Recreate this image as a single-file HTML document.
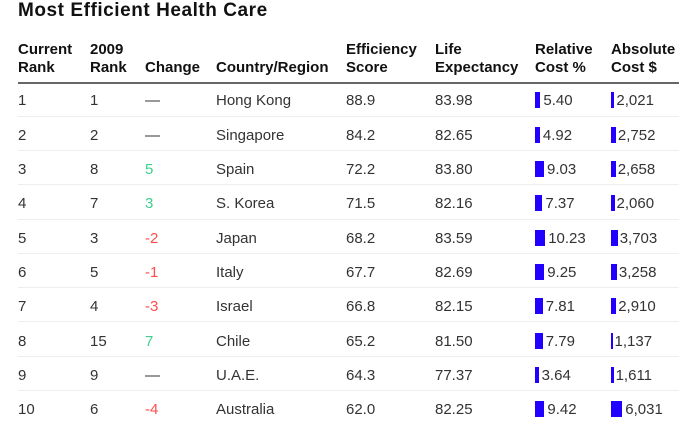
<!DOCTYPE html>
<html><head><meta charset="utf-8">
<style>
html,body{margin:0;padding:0;background:#fff;}
body{width:697px;height:419px;position:relative;overflow:hidden;font-family:"Liberation Sans",Arial,sans-serif;color:#333;}
.t{position:absolute;left:18px;top:0;font-size:19px;line-height:22px;font-weight:bold;color:#111;letter-spacing:0.55px;white-space:nowrap;}
.h{position:absolute;top:41px;font-size:15px;line-height:18px;font-weight:bold;color:#111;white-space:nowrap;}
.rule{position:absolute;left:18px;width:661px;top:82px;height:2px;background:#666;}
.row{position:absolute;left:0;width:697px;height:34.3px;}
.sep{position:absolute;left:18px;width:661px;bottom:0;height:1px;background:#eeeeee;}
.c{position:absolute;top:2px;line-height:34.3px;font-size:15px;white-space:nowrap;color:#333;}
.g{color:#3dcf8e;}
.r{color:#ff4d4d;}
.bar{position:absolute;top:10px;height:16px;background:#2200ff;}
</style></head><body>
<div class="t">Most Efficient Health Care</div>
<div class="h" style="left:18px">Current<br>Rank</div>
<div class="h" style="left:90px">2009<br>Rank</div>
<div class="h" style="left:145px"><br>Change</div>
<div class="h" style="left:216px"><br>Country/Region</div>
<div class="h" style="left:346px">Efficiency<br>Score</div>
<div class="h" style="left:435px">Life<br>Expectancy</div>
<div class="h" style="left:535px">Relative<br>Cost %</div>
<div class="h" style="left:611px">Absolute<br>Cost $</div>
<div class="rule"></div>

<div class="row" style="top:82.4px"><div class="c" style="left:18px">1</div><div class="c" style="left:90px">1</div><div class="c" style="left:145px">—</div><div class="c" style="left:216px">Hong Kong</div><div class="c" style="left:346px">88.9</div><div class="c" style="left:435px">83.98</div><div class="bar" style="left:535px;width:5.4px"></div><div class="c" style="left:543.4px">5.40</div><div class="bar" style="left:611px;width:3.4px"></div><div class="c" style="left:616.4px">2,021</div><div class="sep"></div></div>

<div class="row" style="top:116.7px"><div class="c" style="left:18px">2</div><div class="c" style="left:90px">2</div><div class="c" style="left:145px">—</div><div class="c" style="left:216px">Singapore</div><div class="c" style="left:346px">84.2</div><div class="c" style="left:435px">82.65</div><div class="bar" style="left:535px;width:4.9px"></div><div class="c" style="left:542.9px">4.92</div><div class="bar" style="left:611px;width:4.9px"></div><div class="c" style="left:617.9px">2,752</div><div class="sep"></div></div>

<div class="row" style="top:151px"><div class="c" style="left:18px">3</div><div class="c" style="left:90px">8</div><div class="c g" style="left:145px">5</div><div class="c" style="left:216px">Spain</div><div class="c" style="left:346px">72.2</div><div class="c" style="left:435px">83.80</div><div class="bar" style="left:535px;width:9px"></div><div class="c" style="left:547px">9.03</div><div class="bar" style="left:611px;width:4.7px"></div><div class="c" style="left:617.7px">2,658</div><div class="sep"></div></div>

<div class="row" style="top:185.3px"><div class="c" style="left:18px">4</div><div class="c" style="left:90px">7</div><div class="c g" style="left:145px">3</div><div class="c" style="left:216px">S. Korea</div><div class="c" style="left:346px">71.5</div><div class="c" style="left:435px">82.16</div><div class="bar" style="left:535px;width:7.4px"></div><div class="c" style="left:545.4px">7.37</div><div class="bar" style="left:611px;width:3.5px"></div><div class="c" style="left:616.5px">2,060</div><div class="sep"></div></div>

<div class="row" style="top:219.6px"><div class="c" style="left:18px">5</div><div class="c" style="left:90px">3</div><div class="c r" style="left:145px">-2</div><div class="c" style="left:216px">Japan</div><div class="c" style="left:346px">68.2</div><div class="c" style="left:435px">83.59</div><div class="bar" style="left:535px;width:10.2px"></div><div class="c" style="left:548.2px">10.23</div><div class="bar" style="left:611px;width:6.7px"></div><div class="c" style="left:619.7px">3,703</div><div class="sep"></div></div>

<div class="row" style="top:253.9px"><div class="c" style="left:18px">6</div><div class="c" style="left:90px">5</div><div class="c r" style="left:145px">-1</div><div class="c" style="left:216px">Italy</div><div class="c" style="left:346px">67.7</div><div class="c" style="left:435px">82.69</div><div class="bar" style="left:535px;width:9.2px"></div><div class="c" style="left:547.2px">9.25</div><div class="bar" style="left:611px;width:5.9px"></div><div class="c" style="left:618.9px">3,258</div><div class="sep"></div></div>

<div class="row" style="top:288.2px"><div class="c" style="left:18px">7</div><div class="c" style="left:90px">4</div><div class="c r" style="left:145px">-3</div><div class="c" style="left:216px">Israel</div><div class="c" style="left:346px">66.8</div><div class="c" style="left:435px">82.15</div><div class="bar" style="left:535px;width:7.8px"></div><div class="c" style="left:545.8px">7.81</div><div class="bar" style="left:611px;width:5.2px"></div><div class="c" style="left:618.2px">2,910</div><div class="sep"></div></div>

<div class="row" style="top:322.5px"><div class="c" style="left:18px">8</div><div class="c" style="left:90px">15</div><div class="c g" style="left:145px">7</div><div class="c" style="left:216px">Chile</div><div class="c" style="left:346px">65.2</div><div class="c" style="left:435px">81.50</div><div class="bar" style="left:535px;width:7.8px"></div><div class="c" style="left:545.8px">7.79</div><div class="bar" style="left:611px;width:2px"></div><div class="c" style="left:614.5px">1,137</div><div class="sep"></div></div>

<div class="row" style="top:356.8px"><div class="c" style="left:18px">9</div><div class="c" style="left:90px">9</div><div class="c" style="left:145px">—</div><div class="c" style="left:216px">U.A.E.</div><div class="c" style="left:346px">64.3</div><div class="c" style="left:435px">77.37</div><div class="bar" style="left:535px;width:3.6px"></div><div class="c" style="left:541.6px">3.64</div><div class="bar" style="left:611px;width:2.6px"></div><div class="c" style="left:615.6px">1,611</div><div class="sep"></div></div>

<div class="row" style="top:391.1px"><div class="c" style="left:18px">10</div><div class="c" style="left:90px">6</div><div class="c r" style="left:145px">-4</div><div class="c" style="left:216px">Australia</div><div class="c" style="left:346px">62.0</div><div class="c" style="left:435px">82.25</div><div class="bar" style="left:535px;width:9.4px"></div><div class="c" style="left:547.4px">9.42</div><div class="bar" style="left:611px;width:11.3px"></div><div class="c" style="left:625.3px">6,031</div></div>
</body></html>
